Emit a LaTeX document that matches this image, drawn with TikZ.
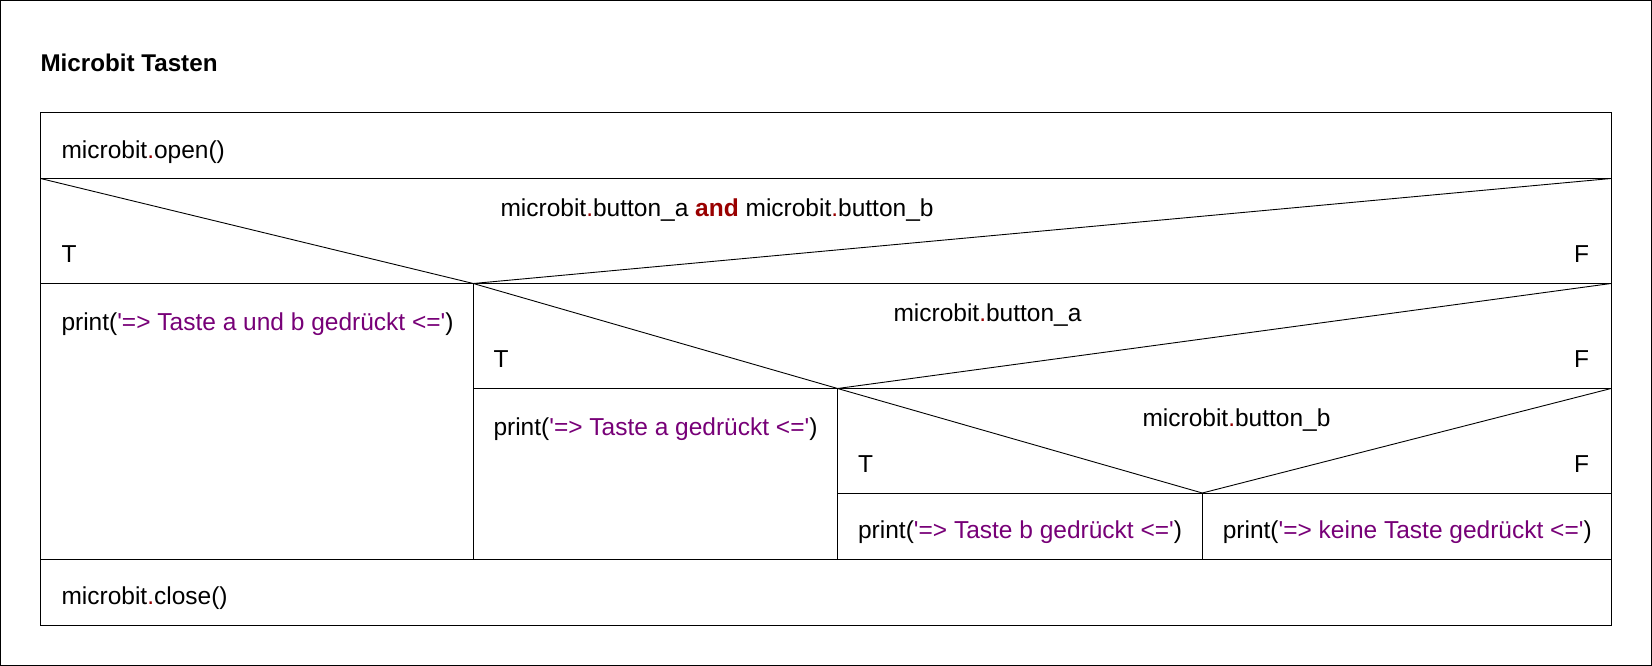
\documentclass[tikz,border=0pt]{standalone}
\usepackage{fontspec}
\setmainfont{Liberation Sans}
\definecolor{kw}{HTML}{990000}
\definecolor{strc}{HTML}{770077}
\newcommand{\sq}{\textquotesingle}
\newcommand{\rdot}{\textcolor{kw}{.}}
\newcommand{\strtxt}[1]{\textcolor{strc}{#1}}
\begin{document}
\begin{tikzpicture}[x=1pt,y=-1pt,line width=1pt,
  lbl/.style={anchor=base west,inner sep=0pt,font=\fontsize{24.5}{28}\selectfont},
  lblr/.style={anchor=base east,inner sep=0pt,font=\fontsize{24.5}{28}\selectfont},
  ttl/.style={anchor=base west,inner sep=0pt,font=\fontsize{24.2}{28}\selectfont\bfseries},
  diag/.style={line width=0.9pt}]
\useasboundingbox (0,0) rectangle (1652,666);
\draw (0.5,0.5) rectangle (1651.5,665.5);
% grid coordinates
\coordinate (TL) at (40.5,112.5);
\coordinate (TR) at (1611,112.5);
\coordinate (BL) at (40.5,625);
\coordinate (BR) at (1611,625);
\coordinate (L1) at (40.5,178.5);  \coordinate (R1) at (1611,178.5);
\coordinate (L2) at (40.5,283.5);  \coordinate (A2) at (473.3,283.5); \coordinate (R2) at (1611,283.5);
\coordinate (A3) at (473.3,388.5); \coordinate (B3) at (837.6,388.5); \coordinate (R3) at (1611,388.5);
\coordinate (B4) at (837.6,493);   \coordinate (C4) at (1202.3,493);  \coordinate (R4) at (1611,493);
\coordinate (L5) at (40.5,559);    \coordinate (A5) at (473.3,559);   \coordinate (B5) at (837.6,559);
\coordinate (C5) at (1202.3,559);  \coordinate (R5) at (1611,559);
% frame of the structogram
\draw (TL) rectangle (BR);
\draw (L1) -- (R1);
\draw (L2) -- (R2);
\draw (A3) -- (R3);
\draw (B4) -- (R4);
\draw (L5) -- (R5);
\draw (A2) -- (A5);
\draw (B3) -- (B5);
\draw (C4) -- (C5);
% decision diagonals
\draw[diag] (L1) -- (A2) -- (R1);
\draw[diag] (A2) -- (B3) -- (R2);
\draw[diag] (B3) -- (C4) -- (R3);
% texts
\node[ttl] (title) at (40,72) {Microbit Tasten};
\node[lbl] (open) at (61,158.3) {microbit\rdot open()};
\node[lbl] (c1) at (500,216.7) {microbit\rdot button\_a \textcolor{kw}{\bfseries and} microbit\rdot button\_b};
\node[lbl] (t1) at (61,262.7) {T};
\node[lblr] (f1) at (1589.5,262.7) {F};
\node[lbl] (p1) at (61,330) {print(\strtxt{\sq=> Taste a und b gedrückt <=\sq})};
\node[lbl] (c2) at (893,321.7) {microbit\rdot button\_a};
\node[lbl] (t2) at (493,367.7) {T};
\node[lblr] (f2) at (1589.5,367.7) {F};
\node[lbl] (p2) at (493,435) {print(\strtxt{\sq=> Taste a gedrückt <=\sq})};
\node[lbl] (c3) at (1142,426.7) {microbit\rdot button\_b};
\node[lbl] (t3) at (857.6,472.7) {T};
\node[lblr] (f3) at (1589.5,472.7) {F};
\node[lbl] (p3) at (857.6,538.3) {print(\strtxt{\sq=> Taste b gedrückt <=\sq})};
\node[lbl] (p4) at (1222.3,538.3) {print(\strtxt{\sq=> keine Taste gedrückt <=\sq})};
\node[lbl] (close) at (61,604.5) {microbit\rdot close()};
\end{tikzpicture}
\end{document}
